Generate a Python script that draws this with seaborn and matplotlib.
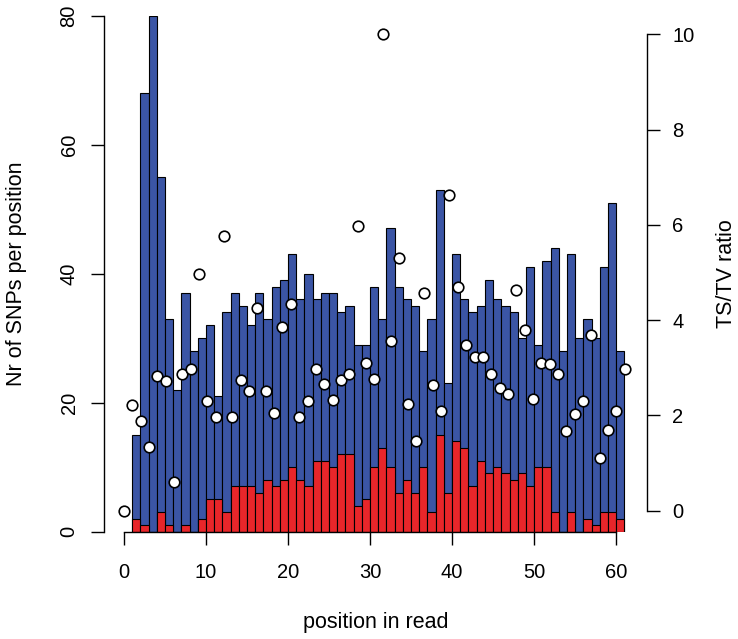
import numpy as np
import pandas as pd
import matplotlib
matplotlib.use("Agg")
import matplotlib.pyplot as plt
import seaborn as sns

# Число SNP на позицию (позиции 1..60): всего и красная часть
bar_pos = np.arange(1, 61)
snp_total = [15, 68, 80, 55, 33, 22, 37, 28, 30, 32,
             21, 34, 37, 35, 32, 37, 33, 38, 39, 43,
             36, 40, 36, 37, 37, 34, 35, 29, 29, 38,
             33, 47, 38, 36, 35, 28, 33, 53, 23, 43,
             36, 34, 35, 39, 36, 35, 34, 30, 41, 29,
             42, 44, 28, 43, 30, 33, 30, 41, 51, 28]
snp_red = [2, 1, 0, 3, 1, 0, 1, 0, 2, 5,
           5, 3, 7, 7, 7, 6, 8, 7, 8, 10,
           8, 7, 11, 11, 10, 12, 12, 4, 5, 10,
           13, 10, 6, 8, 6, 10, 3, 15, 6, 14,
           13, 7, 11, 9, 10, 9, 8, 9, 7, 10,
           10, 3, 0, 3, 0, 2, 1, 3, 3, 2]

# TS/TV ratio (позиции 0..60)
tstv_pos = np.arange(0, 61)
tstv_ratio = [0.0, 2.21, 1.88, 1.34, 2.82, 2.72, 0.60, 2.86, 2.97, 4.97,
              2.30, 1.97, 5.77, 1.97, 2.75, 2.52, 4.26, 2.52, 2.05, 3.85,
              4.34, 1.97, 2.30, 2.97, 2.66, 2.33, 2.75, 2.86, 5.97, 3.11,
              2.77, 10.0, 3.57, 5.30, 2.24, 1.46, 4.58, 2.64, 2.09, 6.63,
              4.69, 3.48, 3.22, 3.22, 2.87, 2.57, 2.46, 4.63, 3.80, 2.34,
              3.11, 3.08, 2.87, 1.67, 2.04, 2.30, 3.69, 1.11, 1.70, 2.10,
              2.97]

x_ticks = [0, 10, 20, 30, 40, 50, 60]
left_ticks = [0, 20, 40, 60, 80]
right_ticks = [0, 2, 4, 6, 8, 10]

BLUE = "#3b55a5"
RED = "#e8262a"

sns.set_style("ticks")
plt.rcParams["font.family"] = ["Liberation Sans", "DejaVu Sans"]
plt.rcParams["text.color"] = "black"
plt.rcParams["axes.labelcolor"] = "black"

df = pd.DataFrame({"pos": bar_pos + 0.5, "total": snp_total, "red": snp_red})

fig = plt.figure(figsize=(7.38, 6.39), dpi=100)
rect = [0.1413, 0.1682, 0.7350, 0.8072]
ax = fig.add_axes(rect)

sns.barplot(data=df, x="pos", y="total", native_scale=True, width=1,
            color=BLUE, saturation=1, errorbar=None,
            edgecolor="black", linewidth=0.8, ax=ax)
sns.barplot(data=df, x="pos", y="red", native_scale=True, width=1,
            color=RED, saturation=1, errorbar=None,
            edgecolor="black", linewidth=0.8, ax=ax)

ax.set_xlim(-2.41, 63.73)
ax.set_ylim(0, 80)
ax.set_xticks(x_ticks)
ax.set_yticks(left_ticks)
ax.spines[["top", "right"]].set_visible(False)
ax.spines["left"].set_bounds(0, 80)
ax.spines["bottom"].set_bounds(0, 60)
for s in ["left", "bottom"]:
    ax.spines[s].set_linewidth(1.0)
    ax.spines[s].set_color("black")
ax.tick_params(axis="both", direction="out", length=9.5, width=1.0,
               labelsize=14.5, colors="black")
ax.tick_params(axis="y", labelrotation=90, pad=9)
ax.tick_params(axis="x", pad=13)
plt.setp(ax.get_yticklabels(), va="center")

ax.set_xlabel("position in read", fontsize=15.5)
ax.xaxis.set_label_coords(0.5, -0.1755)
ax.xaxis.label.set_va("center")
ax.set_ylabel("Nr of SNPs per position", fontsize=15.5)
ax.yaxis.set_label_coords(-0.161, 0.5)
ax.yaxis.label.set_va("center")

# вторая ось: TS/TV
ax2 = fig.add_axes(rect)
ax2.patch.set_visible(False)
sns.scatterplot(x=tstv_pos, y=tstv_ratio, ax=ax2, s=58, color="white",
                edgecolor="black", linewidth=1.2, zorder=3, clip_on=False)
ax2.set_xlim(-2.34, 62.62)
ax2.set_ylim(-0.437, 10.39)
ax2.set_xticks([])
ax2.spines[["top", "left", "bottom"]].set_visible(False)
ax2.spines["right"].set_bounds(0, 10)
ax2.spines["right"].set_linewidth(1.0)
ax2.spines["right"].set_color("black")
ax2.yaxis.tick_right()
ax2.yaxis.set_label_position("right")
ax2.set_yticks(right_ticks)
ax2.tick_params(axis="y", direction="out", length=9.5, width=1.0,
                labelsize=14.5, colors="black", pad=9)
ax2.set_ylabel("TS/TV ratio", fontsize=15.5, rotation=90)
ax2.yaxis.set_label_coords(1.148, 0.5)
ax2.yaxis.label.set_va("center")
ax2.set_xlabel("")

fig.savefig("out.png", dpi=100)
